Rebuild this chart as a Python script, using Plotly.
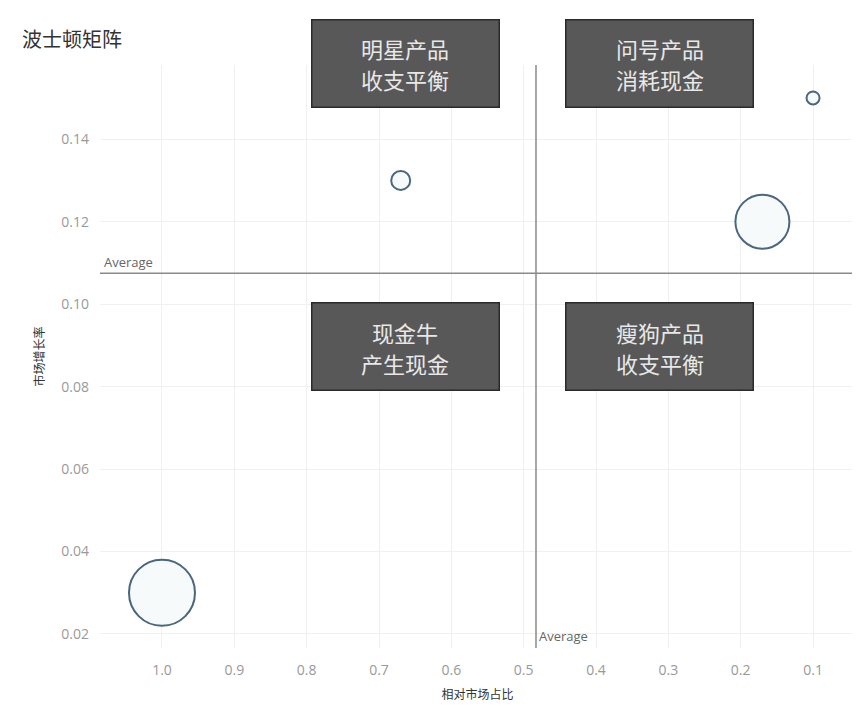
import plotly.graph_objects as go

# Data
share = [1.0, 0.67, 0.17, 0.10]          # 相对市场占比
growth = [0.03, 0.13, 0.12, 0.15]        # 市场增长率
bubble_size = [66, 19, 54, 13]           # bubble diameters (px)
avg_share = 0.483
avg_growth = 0.1075
quad_line1 = ["明星产品", "问号产品", "现金牛", "瘦狗产品"]
quad_line2 = ["收支平衡", "消耗现金", "产生现金", "收支平衡"]
quad_x = [0.664, 0.312, 0.664, 0.312]          # data x of box centres
quad_y = [1.0026, 1.0026, 0.5163, 0.5163]      # fraction of plot height
x_ticks = [1.0, 0.9, 0.8, 0.7, 0.6, 0.5, 0.4, 0.3, 0.2, 0.1]
y_ticks = [0.02, 0.04, 0.06, 0.08, 0.10, 0.12, 0.14]

FONT = "Noto Sans CJK SC"
TICKFONT = "Open Sans"

fig = go.Figure()
fig.add_trace(go.Scatter(
    x=share, y=growth, mode="markers",
    marker=dict(size=bubble_size, color="#f6fafa", opacity=1,
                line=dict(color="#4a6680", width=2)),
    hoverinfo="x+y", showlegend=False,
))

# average lines
fig.add_shape(type="line", xref="paper", yref="y", x0=0, x1=1,
              y0=avg_growth, y1=avg_growth, line=dict(color="#8a8a8a", width=1.5))
fig.add_shape(type="line", xref="x", yref="paper", x0=avg_share, x1=avg_share,
              y0=0, y1=1, line=dict(color="#8a8a8a", width=1.5))

fig.add_annotation(text="Average", xref="paper", yref="y", x=0.003, y=avg_growth,
                   xanchor="left", yanchor="bottom", showarrow=False, yshift=0,
                   font=dict(family=TICKFONT, size=13, color="#666"))
fig.add_annotation(text="Average", xref="x", yref="paper", x=avg_share, y=0,
                   xanchor="left", yanchor="bottom", showarrow=False, xshift=1, yshift=1,
                   font=dict(family=TICKFONT, size=13, color="#666"))

for l1, l2, qx, qy in zip(quad_line1, quad_line2, quad_x, quad_y):
    fig.add_annotation(text=" ", x=qx, y=qy, xref="x", yref="paper", showarrow=False,
                       xanchor="center", yanchor="middle",
                       width=186, height=86, borderpad=0, borderwidth=1.5,
                       bgcolor="#585858", bordercolor="#2a2a2a",
                       font=dict(family=FONT, size=10, color="#585858"))
    for txt, dy in ((l1, 15), (l2, -16)):
        fig.add_annotation(text=txt, x=qx, y=qy, xref="x", yref="paper", showarrow=False,
                           xanchor="center", yanchor="middle", yshift=dy,
                           font=dict(family=FONT, size=22, color="#e8e8e8"))

fig.update_layout(
    width=860, height=720,
    margin=dict(l=92, r=13, t=57, b=80),
    paper_bgcolor="white", plot_bgcolor="white",
    title=dict(text="波士顿矩阵", x=0.0163, xanchor="left", y=0.9556, yanchor="middle",
               font=dict(family=FONT, size=20, color="#333")),
    font=dict(family=FONT),
    xaxis=dict(range=[1.0857, 0.042], tickvals=x_ticks, ticktext=[f"{v:.1f}" for v in x_ticks],
               showgrid=True, gridcolor="#f0f0f0", zeroline=False, showline=False,
               tickfont=dict(family=TICKFONT, size=14, color="#999"), ticks="",
               ticklabelstandoff=12,
               title=dict(text="相对市场占比", font=dict(size=12, color="#333"), standoff=12)),
    yaxis=dict(range=[0.0166, 0.158], tickvals=y_ticks, ticktext=[f"{v:.2f}" for v in y_ticks],
               showgrid=True, gridcolor="#f0f0f0", zeroline=False, showline=False,
               tickfont=dict(family=TICKFONT, size=14, color="#999"), ticks="",
               ticklabelstandoff=10,
               title=dict(text="市场增长率", font=dict(size=12, color="#333"), standoff=14)),
)

fig.write_html("out.html")
